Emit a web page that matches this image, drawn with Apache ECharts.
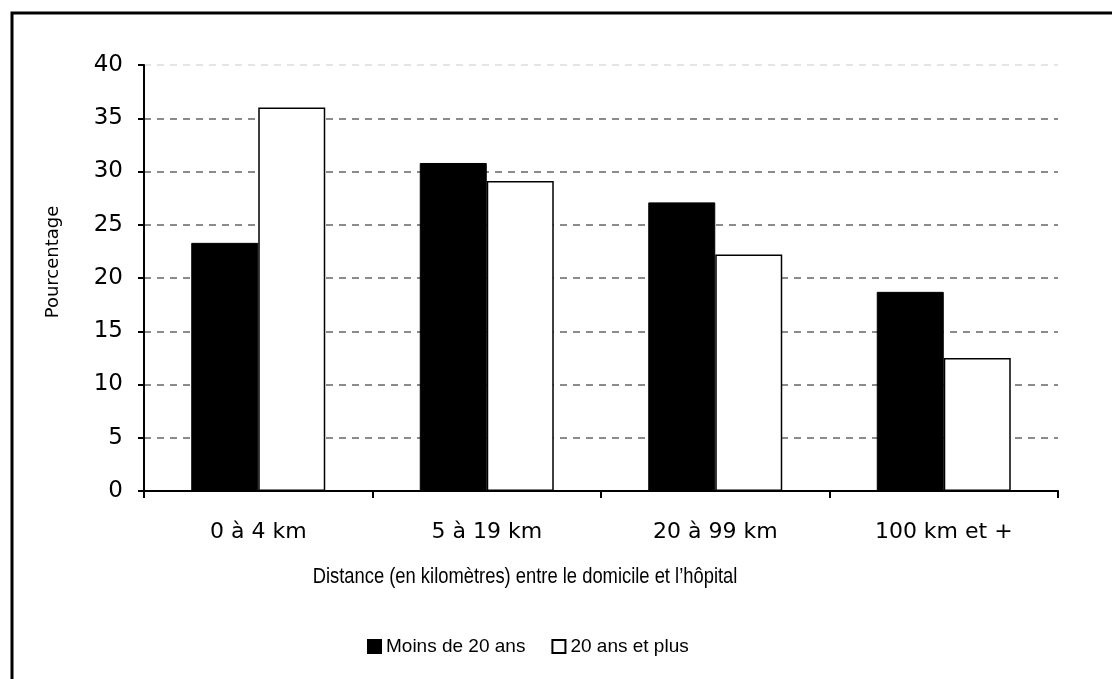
<!DOCTYPE html>
<html>
<head>
<meta charset="utf-8">
<script src="https://cdn.jsdelivr.net/npm/echarts@6/dist/echarts.min.js"></script>
<style>
  html, body { margin: 0; padding: 0; background: #ffffff; }
  #chart { width: 1112px; height: 679px; }
</style>
</head>
<body>
<div id="chart"></div>
<script>
// Distance between home and hospital, share of patients by age group
const categories = ['0 à 4 km', '5 à 19 km', '20 à 99 km', '100 km et +'];
const moins20 = [23.3, 30.8, 27.1, 18.7];
const plus20 = [36.0, 29.1, 22.2, 12.5];
const seriesNames = ['Moins de 20 ans', '20 ans et plus'];
const yTicks = [0, 5, 10, 15, 20, 25, 30, 35, 40];
const xTitle = 'Distance (en kilomètres) entre le domicile et l\u2019hôpital';
const yTitle = 'Pourcentage';

const chart = echarts.init(document.getElementById('chart'), null, { renderer: 'canvas' });

// Gridline colours, one per split line from 0 up to 40 (the top one is lighter)
const gridColors = yTicks.map((v, i) => (i === yTicks.length - 1 ? '#dcdcdc' : '#666666'));

chart.setOption({
  backgroundColor: '#ffffff',
  animation: false,
  grid: { left: 144, right: 54, top: 65, bottom: 188, containLabel: false },
  xAxis: {
    type: 'category',
    data: categories,
    boundaryGap: true,
    axisLine: { lineStyle: { color: '#000', width: 2 } },
    axisTick: { show: true, length: 7, lineStyle: { color: '#000', width: 2 } },
    axisLabel: {
      color: '#000', fontFamily: 'DejaVu Sans', fontSize: 22, margin: 30
    },
    splitLine: { show: false }
  },
  yAxis: {
    type: 'value',
    min: yTicks[0],
    max: yTicks[yTicks.length - 1],
    interval: 5,
    axisLine: { show: true, lineStyle: { color: '#000', width: 2 } },
    axisTick: { show: true, length: 6, lineStyle: { color: '#000', width: 2 } },
    axisLabel: {
      color: '#000', fontFamily: 'DejaVu Sans', fontSize: 23, margin: 21
    },
    splitLine: {
      show: true,
      lineStyle: { color: gridColors, type: [7, 6], width: 1.6 }
    }
  },
  legend: {
    data: seriesNames,
    left: 362,
    top: 632,
    orient: 'horizontal',
    itemWidth: 13,
    itemHeight: 13,
    itemGap: 26,
    icon: 'rect',
    textStyle: { color: '#000', fontFamily: 'Liberation Sans', fontSize: 19 }
  },
  series: [
    {
      name: seriesNames[0],
      type: 'bar',
      data: moins20,
      barWidth: 67,
      barGap: '0%',
      itemStyle: { color: '#000000', borderColor: '#000000', borderWidth: 1 }
    },
    {
      name: seriesNames[1],
      type: 'bar',
      data: plus20,
      barWidth: 67,
      barGap: '0%',
      itemStyle: { color: '#ffffff', borderColor: '#000000', borderWidth: 1.5 }
    }
  ],
  graphic: [
    {
      type: 'rect',
      shape: { x: 12, y: 13, width: 1300, height: 900 },
      style: { fill: 'none', stroke: '#000', lineWidth: 3 },
      silent: true
    },
    {
      // condensed axis title: taller glyphs squeezed horizontally
      type: 'text',
      x: 525,
      y: 577,
      scaleX: 0.835,
      style: {
        text: xTitle,
        fill: '#000',
        font: '22px "Liberation Sans"',
        textAlign: 'center',
        textVerticalAlign: 'middle'
      }
    },
    {
      type: 'text',
      x: 53,
      y: 262,
      rotation: Math.PI / 2,
      style: {
        text: yTitle,
        fill: '#000',
        font: '18px "DejaVu Sans"',
        textAlign: 'center',
        textVerticalAlign: 'middle'
      }
    }
  ]
});
</script>
</body>
</html>
